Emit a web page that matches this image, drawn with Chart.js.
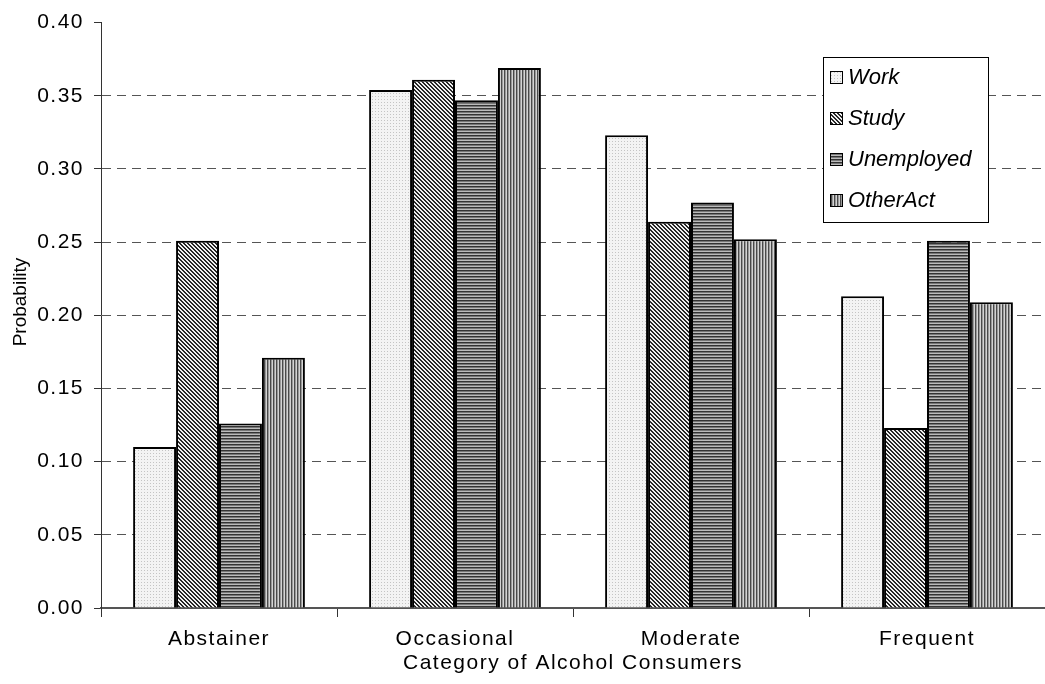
<!DOCTYPE html>
<html>
<head>
<meta charset="utf-8">
<script src="https://cdn.jsdelivr.net/npm/chart.js@4"></script>
<style>
  html, body { margin: 0; padding: 0; background: #fff; overflow: hidden; }
</style>
</head>
<body>
<canvas id="probChart" width="1045" height="684"></canvas>
<script>
const categories = ["Abstainer", "Occasional", "Moderate", "Frequent"];
const seriesNames = ["Work", "Study", "Unemployed", "OtherAct"];
const work = [0.110, 0.354, 0.323, 0.213];
const study = [0.251, 0.361, 0.264, 0.123];
const unemployed = [0.126, 0.347, 0.277, 0.251];
const otherAct = [0.171, 0.369, 0.252, 0.209];
const yTicks = [0, 0.05, 0.10, 0.15, 0.20, 0.25, 0.30, 0.35, 0.40];
const yTitle = "Probability";
const xTitle = "Category of Alcohol Consumers";

// small tiles used as bar fills
function makePattern(size, paint) {
    const c = document.createElement("canvas");
    c.width = size;
    c.height = size;
    const g = c.getContext("2d");
    paint(g, size);
    return g.createPattern(c, "repeat");
}

const dotted = makePattern(3, (g) => {
    g.fillStyle = "#f3f3f3";
    g.fillRect(0, 0, 3, 3);
    g.fillStyle = "#c4c4c4";
    g.fillRect(0, 0, 1, 1);
});

const diagonal = makePattern(4, (g) => {
    g.fillStyle = "#f0f0f0";
    g.fillRect(0, 0, 4, 4);
    g.fillStyle = "#262626";
    for (let y = 0; y < 4; y++) {
        for (let x = 0; x < 4; x++) {
            if (((x - y + 8) % 4) < 2) g.fillRect(x, y, 1, 1);
        }
    }
});

const horizontal = makePattern(3, (g) => {
    g.fillStyle = "#333333";
    g.fillRect(0, 0, 3, 1);
    g.fillStyle = "#777777";
    g.fillRect(0, 1, 3, 1);
    g.fillStyle = "#bbbbbb";
    g.fillRect(0, 2, 3, 1);
});

const vertical = makePattern(3, (g) => {
    g.fillStyle = "#4a4a4a";
    g.fillRect(0, 0, 1, 3);
    g.fillStyle = "#9a9a9a";
    g.fillRect(1, 0, 1, 3);
    g.fillStyle = "#d4d4d4";
    g.fillRect(2, 0, 1, 3);
});

const fills = [dotted, diagonal, horizontal, vertical];
const values = [work, study, unemployed, otherAct];
const fontFamily = "'Liberation Sans', Arial, sans-serif";

// the original text is a bit wide, so space the letters out
const wideText = {
    id: "wideText",
    beforeDraw(chart) {
        chart.ctx.letterSpacing = "1.5px";
    },
    afterDraw(chart) {
        const ctx = chart.ctx;
        ctx.save();
        ctx.letterSpacing = "0px";

        // y axis title, sits a little above the middle in the original
        ctx.translate(21, 302);
        ctx.rotate(-Math.PI / 2);
        ctx.font = "19px " + fontFamily;
        ctx.fillStyle = "#000";
        ctx.textAlign = "center";
        ctx.textBaseline = "middle";
        ctx.fillText(yTitle, 0, 0);
        ctx.setTransform(1, 0, 0, 1, 0, 0);

        // legend box inside the plot
        const left = 823, top = 57, right = 988, bottom = 222;
        ctx.fillStyle = "#fff";
        ctx.fillRect(left, top, right - left, bottom - top);
        ctx.strokeStyle = "#000";
        ctx.lineWidth = 1;
        ctx.strokeRect(left + 0.5, top + 0.5, right - left, bottom - top);
        ctx.font = "italic 22px " + fontFamily;
        ctx.textAlign = "left";
        ctx.textBaseline = "middle";
        chart.data.datasets.forEach((ds, i) => {
            const cy = 77 + i * 41;
            ctx.fillStyle = ds.backgroundColor;
            ctx.fillRect(830, cy - 6, 12, 12);
            ctx.strokeStyle = "#000";
            ctx.strokeRect(830.5, cy - 5.5, 12, 12);
            ctx.fillStyle = "#000";
            ctx.fillText(ds.label, 848, cy + 1);
        });
        ctx.restore();
        ctx.letterSpacing = "0px";
    }
};

const font = { family: fontFamily, size: 21 };

new Chart(document.getElementById("probChart").getContext("2d"), {
    type: "bar",
    data: {
        labels: categories,
        datasets: seriesNames.map((name, i) => ({
            label: name,
            data: values[i],
            backgroundColor: fills[i],
            borderColor: "#000",
            borderWidth: 2,
            categoryPercentage: 0.728,
            barPercentage: 1.0
        }))
    },
    options: {
        responsive: false,
        animation: false,
        layout: { padding: { top: 19, right: 0, left: 0, bottom: 0 }, autoPadding: false },
        plugins: {
            legend: { display: false },
            tooltip: { enabled: false }
        },
        scales: {
            x: {
                afterFit: (scale) => { scale.height = 76; },
                grid: {
                    offset: true,
                    drawOnChartArea: false,
                    tickLength: 9,
                    tickColor: "#333"
                },
                border: { color: "#555", width: 2 },
                ticks: { color: "#000", font: font, padding: 10 },
                title: {
                    display: true,
                    text: xTitle,
                    color: "#000",
                    font: font,
                    padding: { top: 0, bottom: 8 }
                }
            },
            y: {
                min: 0,
                max: 0.4,
                afterFit: (scale) => { scale.width = 101; },
                afterBuildTicks: (scale) => {
                    scale.ticks = yTicks.map(v => ({ value: v }));
                },
                grid: {
                    color: (c) => (c.tick && (c.tick.value === 0 || c.tick.value === 0.4)) ? "rgba(0,0,0,0)" : "#555",
                    lineWidth: 1,
                    tickLength: 7,
                    tickColor: "#333"
                },
                border: { color: "#333", width: 1, dash: [9, 6] },
                ticks: {
                    color: "#000",
                    font: font,
                    padding: 10,
                    callback: (v) => Number(v).toFixed(2)
                }
            }
        }
    },
    plugins: [wideText]
});
</script>
</body>
</html>
